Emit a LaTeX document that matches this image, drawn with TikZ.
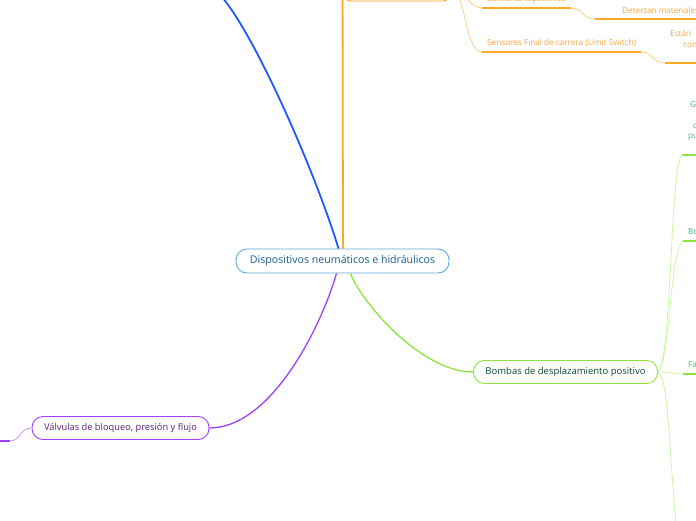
\documentclass[tikz,border=0pt]{standalone}
\usepackage{fontspec}
\setmainfont{Open Sans}
\usepackage{tikz}

\definecolor{rootline}{HTML}{5DA9DD}
\definecolor{roottext}{HTML}{1B5E8F}
\definecolor{blueline}{HTML}{2457FF}
\definecolor{sensline}{HTML}{FFA726}
\definecolor{senslight}{HTML}{FFCB7A}
\definecolor{senstext}{HTML}{F5A742}
\definecolor{bombline}{HTML}{8EE43E}
\definecolor{bomblight}{HTML}{C9F59E}
\definecolor{bombtext}{HTML}{0D4A2A}
\definecolor{bombleaf}{HTML}{3DBD7D}
\definecolor{valvline}{HTML}{A040FF}
\definecolor{valvlight}{HTML}{CC90FF}
\definecolor{valvtext}{HTML}{5A2278}

\tikzset{
  topic/.style={rounded corners=11pt, line width=0.9pt, minimum height=24pt,
    inner xsep=12pt, font=\fontsize{10.6}{12}\selectfont},
  leaf/.style={anchor=south west, inner xsep=5pt, inner ysep=0pt, text depth=6pt,
    font=\fontsize{8.2}{9}\selectfont},
  frag/.style={anchor=base west, inner sep=0pt, font=\fontsize{8.2}{9}\selectfont},
  under/.style={line width=1.6pt},
  twig/.style={line width=0.7pt}
}

\begin{document}
\begin{tikzpicture}[x=1pt,y=-1pt]
  \path[use as bounding box, fill=white] (0,0) rectangle (696,520);

  \node[topic, draw=rootline, text=roottext, minimum width=213pt] (root) at (342.5,261)
    {Dispositivos neumáticos e hidráulicos};
  \node[topic, draw=sensline, minimum width=108pt, rounded corners=8pt] (sensores) at (397,-11) {};
  \node[topic, draw=bombline, text=bombtext, minimum width=181pt, minimum height=23pt,
    font=\fontsize{9.5}{11}\selectfont] (bombas) at (565.5,372) {Bombas de desplazamiento positivo};
  \node[topic, draw=valvline, text=valvtext, minimum width=177pt, minimum height=23pt,
    font=\fontsize{9.3}{11}\selectfont] (valvulas) at (120.5,428) {Válvulas de bloqueo, presión y flujo};

  \draw[blueline, line width=1.8pt] ([xshift=-4pt]root.north) .. controls (318,180) and (258,40) .. (222,-3);
  \draw[sensline, line width=1.8pt] ([xshift=0.5pt]root.north) -- (sensores.west);
  \draw[bombline, line width=1.3pt] ([xshift=8pt]root.south) .. controls (360,300) and (420,372) .. (bombas.west);
  \draw[valvline, line width=1.3pt] ([xshift=-6pt]root.south) .. controls (320,330) and (270,428) .. (valvulas.east);

  % sensores
  \node[leaf, text=senstext] (capac) at (482,8) {Sensores capacitivos};
  \node[leaf, text=senstext] (carrera) at (482,52) {Sensores Final de carrera (Limit Switch)};
  \coordinate (detectU) at (595,19);
  \coordinate (estanU) at (665,63);
  \node[frag, text=senstext] (detect) at (622,13) {Detectan materiales};
  \node[frag, text=senstext] (estan) at (670,36) {Están};
  \node[frag, text=senstext] (con) at (683,47) {con};
  \draw[senslight, twig] (sensores.east) .. controls (466,-11) and (468,8) .. (capac.south west);
  \draw[senslight, twig] (sensores.east) .. controls (466,-11) and (464,52) .. (carrera.south west);
  \draw[senslight, twig] (capac.south east) .. controls (583,8) and (582,19) .. (detectU);
  \draw[senslight, twig] (carrera.south east) .. controls (653,52) and (652,63) .. (estanU);
  \draw[sensline, under] (capac.south west) -- (capac.south east);
  \draw[sensline, under] (carrera.south west) -- (carrera.south east);
  \draw[sensline, under] (detectU) -- ++(110,0);
  \draw[sensline, under] (estanU) -- ++(40,0);

  % bombas
  \coordinate (gU) at (682,155);
  \coordinate (bdown) at (676,525);
  \node[frag, text=bombleaf] (g1) at (690,107) {G};
  \node[frag, text=bombleaf] (g2) at (693,128) {c};
  \node[frag, text=bombleaf] (g3) at (688,138) {pu};
  \node[leaf, text=bombleaf] (bo) at (683,241) {Bo};
  \node[leaf, text=bombleaf] (fa) at (683,374) {Fa};
  \draw[bomblight, twig] (bombas.east) .. controls (672,360) and (670,165) .. (gU);
  \draw[bomblight, twig] (bombas.east) .. controls (670,362) and (670,250) .. (bo.south west);
  \draw[bomblight, twig] (bombas.east) .. controls (670,372) and (672,374) .. (fa.south west);
  \draw[bomblight, twig] (bombas.east) .. controls (668,380) and (668,430) .. (bdown);
  \draw[bombline, under] (gU) -- ++(20,0);
  \draw[bombline, under] (bo.south west) -- ++(20,0);
  \draw[bombline, under] (fa.south west) -- ++(20,0);

  % valvulas
  \coordinate (vU) at (10,441);
  \draw[valvlight, twig] (valvulas.west) .. controls (20,428) and (20,441) .. (vU);
  \draw[valvline, under] (vU) -- ++(-15,0);
\end{tikzpicture}
\end{document}
